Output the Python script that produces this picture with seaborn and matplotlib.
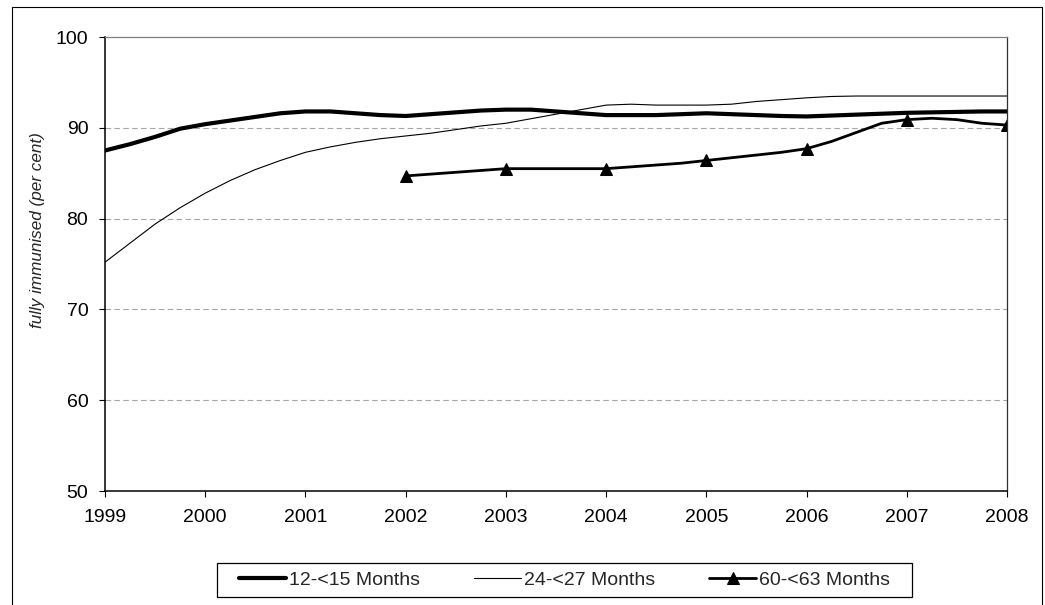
import numpy as np
import pandas as pd
import seaborn as sns
import matplotlib.pyplot as plt
from matplotlib.patches import Rectangle

# ----------------------------------------------------------------
# Data (quarterly steps)
# ----------------------------------------------------------------
years_all = [1999 + q * 0.25 for q in range(37)]          # 1999.00 .. 2008.00
years_60 = [2002 + q * 0.25 for q in range(25)]           # 2002.00 .. 2008.00

m12_15 = [87.5, 88.2, 89.0, 89.9, 90.4, 90.8, 91.2, 91.6, 91.8,
          91.8, 91.6, 91.4, 91.3, 91.5, 91.7, 91.9, 92.0,
          92.0, 91.8, 91.6, 91.4, 91.4, 91.4, 91.5, 91.6,
          91.5, 91.4, 91.3, 91.25, 91.35, 91.45, 91.55, 91.65,
          91.7, 91.75, 91.8, 91.8]

m24_27 = [75.2, 77.3, 79.4, 81.2, 82.8, 84.2, 85.4, 86.4, 87.3,
          87.9, 88.4, 88.8, 89.1, 89.4, 89.8, 90.2, 90.5,
          91.0, 91.5, 92.0, 92.5, 92.6, 92.5, 92.5, 92.5,
          92.6, 92.9, 93.1, 93.3, 93.45, 93.5, 93.5, 93.5,
          93.5, 93.5, 93.5, 93.5]

m60_63 = [84.7, 84.9, 85.1, 85.3, 85.5,
          85.5, 85.5, 85.5, 85.5,
          85.7, 85.9, 86.1, 86.4,
          86.7, 87.0, 87.3, 87.7,
          88.5, 89.5, 90.5, 90.9,
          91.05, 90.9, 90.5, 90.3]

labels = ["12-<15 Months", "24-<27 Months", "60-<63 Months"]
year_ticks = list(range(1999, 2009))
y_ticks = [50, 60, 70, 80, 90, 100]

df_a = pd.DataFrame({"year": years_all, "pct": m12_15})
df_b = pd.DataFrame({"year": years_all, "pct": m24_27})
df_c = pd.DataFrame({"year": years_60, "pct": m60_63})

# ----------------------------------------------------------------
# Style
# ----------------------------------------------------------------
sns.set_style("white")
plt.rcParams['font.family'] = ['Liberation Sans', 'DejaVu Sans']

W, H = 1045, 605
fig = plt.figure(figsize=(W / 100, H / 100), dpi=100)
ax = fig.add_axes([105 / W, 1 - 491 / H, 902 / W, 454 / H])

# gridlines (behind the data)
for v in y_ticks[1:-1]:
    ax.axhline(v, color="#a6a6a6", lw=0.8, ls=(0, (5, 3)), zorder=0)

sns.lineplot(data=df_a, x="year", y="pct", ax=ax, color="black",
             lw=3.0, label=labels[0], solid_capstyle="round")
sns.lineplot(data=df_b, x="year", y="pct", ax=ax, color="black",
             lw=0.8, label=labels[1])
sns.lineplot(data=df_c, x="year", y="pct", ax=ax, color="black",
             lw=2.0, marker="^", markersize=9, markevery=4,
             markeredgecolor="black", label=labels[2])

ax.set_xlim(1999, 2008)
ax.set_ylim(50, 100)
ax.set_xticks(year_ticks)
ax.set_yticks(y_ticks)
ax.set_xlabel("")
ax.set_ylabel("fully immunised (per cent)", fontsize=12.3, style="italic")
ax.yaxis.set_label_coords(-0.066, 0.575)

ax.tick_params(axis="both", direction="out", length=4, width=0.8,
               labelsize=14, colors="black")
ax.tick_params(axis="x", pad=9, bottom=True)
ax.tick_params(axis="y", pad=8, left=True)

for side in ["left", "bottom"]:
    ax.spines[side].set_color("black")
    ax.spines[side].set_linewidth(1.1)
ax.spines["top"].set_color("#808080")
ax.spines["top"].set_linewidth(0.9)
ax.spines["right"].set_color("#303030")
ax.spines["right"].set_linewidth(0.9)

# legend below the plot, with its own plain box
leg = ax.legend(loc="center", bbox_to_anchor=(564.5 / W, 1 - 580 / H),
                bbox_transform=fig.transFigure, ncol=3, fontsize=14,
                frameon=False, handlelength=2.4, handletextpad=0.15,
                columnspacing=2.8, borderpad=0.3)
fig.patches.append(Rectangle((217 / W, 1 - 597 / H), 695 / W, 34 / H,
                             transform=fig.transFigure, fill=False,
                             edgecolor="black", lw=0.9))

# outer chart border
fig.patches.append(Rectangle((12 / W, -0.01), 1030 / W, 1 - 7 / H + 0.01,
                             transform=fig.transFigure, fill=False,
                             edgecolor="black", lw=0.8))

plt.savefig("out.png", dpi=100)
